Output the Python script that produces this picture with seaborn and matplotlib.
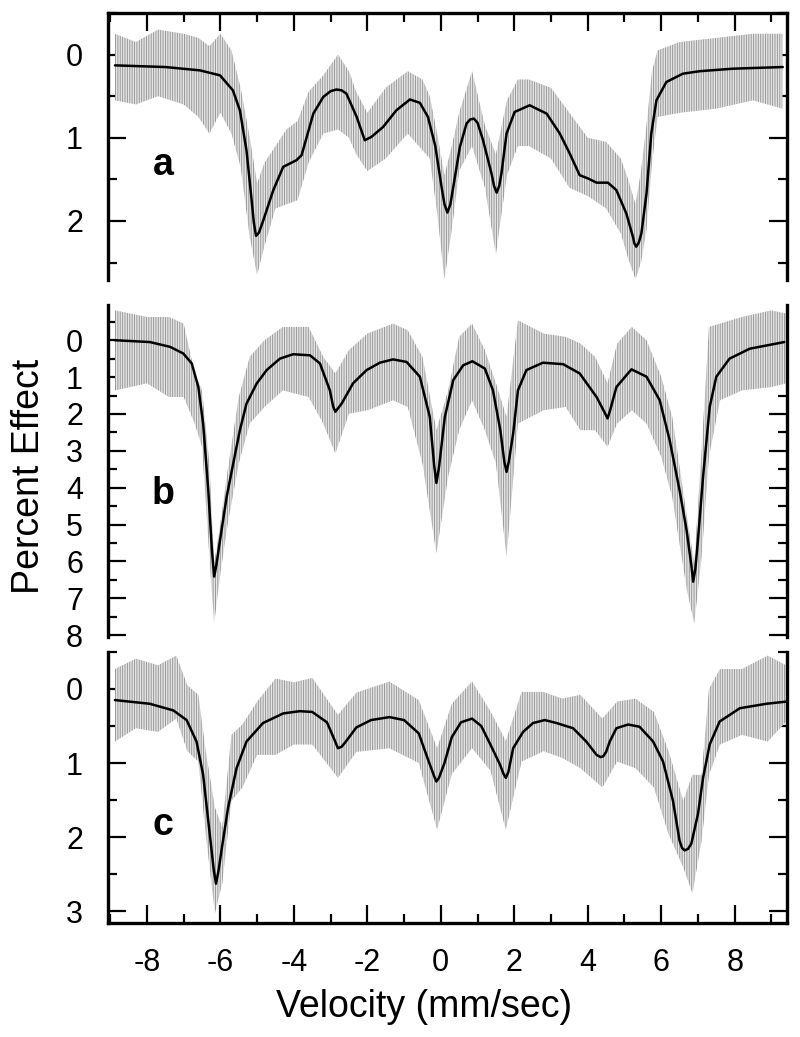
import matplotlib
matplotlib.use("Agg")
import matplotlib.pyplot as plt
import seaborn as sns

# --- fitted curves (velocity in mm/sec, percent effect) ---
vel_a = [-8.87, -7.5, -6.56, -6.01, -5.66, -5.47, -5.29, -5.15, -5.09, -5.03,
         -4.95, -4.83, -4.56, -4.29, -3.93, -3.79, -3.47, -3.20, -3.00, -2.84,
         -2.70, -2.57, -2.29, -2.07, -1.89, -1.57, -1.21, -0.84, -0.57, -0.35,
         -0.15, 0.02, 0.10, 0.18, 0.26, 0.34, 0.52, 0.70, 0.80, 0.90,
         1.00, 1.15, 1.38, 1.45, 1.52, 1.59, 1.65, 1.79, 2.01, 2.42,
         2.88, 3.24, 3.51, 3.78, 4.01, 4.24, 4.55, 4.78, 5.05, 5.23,
         5.27, 5.32, 5.39, 5.46, 5.60, 5.73, 5.87, 6.14, 6.59, 7.05,
         7.95, 9.31]
fit_a = [0.13, 0.15, 0.19, 0.25, 0.43, 0.67, 1.15, 1.75, 2.02, 2.18,
         2.14, 1.99, 1.63, 1.35, 1.27, 1.21, 0.71, 0.51, 0.44, 0.42,
         0.43, 0.47, 0.75, 1.03, 0.99, 0.87, 0.67, 0.54, 0.58, 0.75,
         1.10, 1.59, 1.80, 1.90, 1.80, 1.59, 1.11, 0.83, 0.78, 0.77,
         0.82, 1.03, 1.43, 1.58, 1.66, 1.58, 1.43, 0.95, 0.69, 0.61,
         0.71, 0.95, 1.19, 1.45, 1.49, 1.54, 1.54, 1.63, 1.91, 2.19,
         2.27, 2.31, 2.26, 2.15, 1.67, 0.95, 0.55, 0.33, 0.23, 0.20,
         0.17, 0.15]

vel_b = [-8.87, -7.92, -7.37, -7.01, -6.78, -6.60, -6.47, -6.33, -6.23, -6.17,
         -6.11, -6.01, -5.83, -5.65, -5.47, -5.29, -5.01, -4.74, -4.38, -4.02,
         -3.56, -3.29, -3.02, -2.93, -2.87, -2.80, -2.70, -2.39, -2.02, -1.66,
         -1.30, -0.93, -0.57, -0.30, -0.18, -0.12, -0.05, 0.11, 0.34, 0.61,
         0.86, 1.20, 1.42, 1.62, 1.73, 1.79, 1.85, 1.97, 2.10, 2.33,
         2.78, 3.33, 3.78, 4.24, 4.48, 4.54, 4.61, 4.78, 5.19, 5.60,
         5.96, 6.23, 6.50, 6.69, 6.82, 6.87, 6.93, 7.00, 7.14, 7.32,
         7.50, 7.86, 8.41, 9.35]
fit_b = [0.00, 0.05, 0.18, 0.36, 0.63, 1.27, 2.26, 4.07, 5.70, 6.41,
         6.10, 5.42, 4.25, 3.34, 2.44, 1.72, 1.17, 0.81, 0.50, 0.38,
         0.41, 0.63, 1.36, 1.80, 1.94, 1.85, 1.72, 1.17, 0.81, 0.61,
         0.52, 0.59, 0.99, 2.08, 3.40, 3.87, 3.45, 2.08, 1.08, 0.68,
         0.57, 0.77, 1.36, 2.44, 3.30, 3.57, 3.30, 2.53, 1.36, 0.81,
         0.61, 0.65, 0.90, 1.54, 2.00, 2.12, 1.90, 1.27, 0.79, 0.99,
         1.63, 2.71, 4.07, 5.15, 6.10, 6.55, 6.20, 5.42, 3.70, 1.81,
         0.99, 0.50, 0.23, 0.05]

vel_c = [-8.87, -7.92, -7.28, -6.92, -6.65, -6.47, -6.29, -6.18, -6.12, -6.05,
         -5.97, -5.79, -5.56, -5.29, -4.84, -4.29, -3.84, -3.5, -3.1, -2.9,
         -2.8, -2.7, -2.6, -2.3, -1.9, -1.4, -1.0, -0.6, -0.35, -0.18,
         -0.12, -0.05, 0.1, 0.3, 0.55, 0.85, 1.1, 1.35, 1.61, 1.71,
         1.77, 1.84, 1.97, 2.24, 2.51, 2.83, 3.15, 3.60, 3.96, 4.24,
         4.35, 4.42, 4.50, 4.60, 4.78, 5.10, 5.41, 5.78, 6.05, 6.32,
         6.50, 6.57, 6.64, 6.73, 6.82, 7.00, 7.14, 7.32, 7.59, 8.14,
         8.86, 9.41]
fit_c = [0.15, 0.20, 0.29, 0.42, 0.71, 1.16, 1.96, 2.45, 2.63, 2.45,
         2.18, 1.60, 1.07, 0.71, 0.46, 0.33, 0.30, 0.31, 0.45, 0.68,
         0.80, 0.78, 0.72, 0.52, 0.42, 0.38, 0.42, 0.60, 0.95, 1.18,
         1.25, 1.20, 1.00, 0.65, 0.45, 0.40, 0.50, 0.75, 1.02, 1.15,
         1.20, 1.12, 0.80, 0.58, 0.46, 0.42, 0.46, 0.53, 0.71, 0.89,
         0.92, 0.91, 0.85, 0.71, 0.53, 0.48, 0.51, 0.71, 0.98, 1.51,
         2.05, 2.15, 2.18, 2.16, 2.09, 1.69, 1.20, 0.75, 0.44, 0.26,
         0.20, 0.17]

# --- spread of the measured points (upper / lower edge of the error bars) ---
band_vel_a = [-8.87, -8.3, -7.7, -7.0, -6.6, -6.3, -6.0, -5.7, -5.45, -5.2,
              -5.0, -4.8, -4.5, -4.2, -3.9, -3.6, -3.2, -2.8, -2.5, -2.3,
              -2.0, -1.5, -0.9, -0.5, -0.3, -0.1, 0.1, 0.3, 0.5, 0.85,
              1.2, 1.5, 1.8, 2.1, 2.4, 3.0, 3.5, 4.0, 4.5, 4.9,
              5.1, 5.3, 5.45, 5.6, 5.75, 5.9, 6.5, 7.5, 8.5, 9.3]
band_top_a = [-0.25, -0.15, -0.30, -0.25, -0.20, -0.10, -0.25, -0.05, 0.40, 1.00,
              1.55, 1.30, 1.10, 0.90, 0.80, 0.45, 0.25, 0.00, 0.20, 0.45,
              0.70, 0.40, 0.20, 0.30, 0.50, 0.95, 1.45, 1.10, 0.70, 0.20,
              0.85, 1.20, 0.55, 0.30, 0.30, 0.40, 0.70, 1.00, 1.05, 1.25,
              1.50, 1.80, 1.40, 0.85, 0.20, -0.05, -0.15, -0.20, -0.25, -0.25]
band_bot_a = [0.55, 0.60, 0.50, 0.60, 0.75, 0.95, 0.70, 0.95, 1.35, 2.20,
              2.65, 2.30, 1.85, 1.80, 1.75, 1.30, 0.95, 0.90, 1.00, 1.20,
              1.40, 1.25, 0.95, 1.15, 1.25, 1.90, 2.70, 2.10, 1.40, 1.10,
              1.60, 2.40, 1.45, 1.10, 1.10, 1.25, 1.60, 1.70, 1.85, 2.15,
              2.45, 2.70, 2.50, 2.10, 1.30, 0.75, 0.70, 0.65, 0.55, 0.65]

band_vel_b = [-8.87, -8.0, -7.4, -7.0, -6.7, -6.5, -6.3, -6.17, -6.0, -5.8,
              -5.5, -5.2, -4.8, -4.3, -3.6, -3.2, -2.87, -2.5, -2.0, -1.3,
              -0.9, -0.5, -0.12, 0.2, 0.5, 0.85, 1.2, 1.5, 1.79, 2.1,
              2.8, 3.4, 3.8, 4.2, 4.54, 4.8, 5.2, 5.6, 6.0, 6.3,
              6.7, 6.9, 7.1, 7.3, 7.6, 8.2, 9.0, 9.4]
band_top_b = [-0.81, -0.63, -0.63, -0.45, 0.90, 1.36, 3.34, 6.05, 4.97, 3.52,
              1.54, 0.45, 0.00, -0.36, -0.36, 0.45, 0.90, 0.27, -0.18, -0.45,
              -0.27, 0.45, 2.44, 1.36, -0.09, -0.45, 0.27, 1.17, 2.08, -0.54,
              -0.18, -0.09, 0.09, 0.45, 1.17, 0.09, -0.36, 0.00, 0.99, 2.08,
              4.79, 6.05, 2.98, -0.36, -0.45, -0.63, -0.81, -0.72]
band_bot_b = [1.36, 1.17, 1.54, 1.54, 2.26, 2.89, 5.87, 7.68, 6.32, 4.97,
              3.34, 2.26, 1.81, 1.36, 1.54, 2.26, 3.07, 1.99, 1.90, 1.63,
              1.81, 3.34, 5.78, 3.70, 2.44, 1.63, 2.44, 3.34, 5.87, 2.26,
              1.90, 1.81, 2.44, 2.44, 2.89, 2.26, 1.90, 2.26, 3.16, 4.25,
              6.78, 7.68, 5.87, 3.16, 1.63, 1.36, 1.27, 1.17]

band_vel_c = [-8.87, -8.3, -7.7, -7.2, -6.9, -6.6, -6.4, -6.15, -5.95, -5.7,
              -5.4, -5.0, -4.5, -4.0, -3.5, -2.8, -2.3, -1.4, -0.6, -0.1,
              0.3, 0.85, 1.35, 1.77, 2.2, 2.8, 3.3, 3.8, 4.4, 4.8,
              5.3, 5.8, 6.2, 6.6, 6.85, 7.1, 7.3, 7.6, 8.2, 8.9,
              9.4]
band_top_c = [-0.27, -0.41, -0.32, -0.45, -0.05, 0.08, 0.84, 1.60, 1.87, 0.62,
              0.48, 0.17, -0.14, -0.09, -0.15, 0.35, 0.05, -0.10, 0.15, 0.80,
              0.20, -0.10, 0.30, 0.70, 0.04, 0.04, 0.13, 0.08, 0.40, 0.17,
              0.13, 0.31, 0.84, 1.51, 1.16, 1.16, 0.00, -0.27, -0.27, -0.45,
              -0.32]
band_bot_c = [0.71, 0.53, 0.58, 0.40, 0.84, 0.98, 1.96, 3.03, 2.63, 1.51,
              1.33, 0.89, 0.89, 0.75, 0.75, 1.20, 0.85, 0.80, 1.00, 1.90,
              1.15, 0.80, 1.10, 1.90, 0.98, 0.84, 0.93, 1.07, 1.33, 0.98,
              1.07, 1.33, 1.96, 2.41, 2.76, 2.05, 1.16, 0.75, 0.62, 0.71,
              0.44]

# tick positions
x_major = [-8, -6, -4, -2, 0, 2, 4, 6, 8]
x_minor = [-9, -7, -5, -3, -1, 1, 3, 5, 7, 9]
y_major_a = [0, 1, 2]
y_minor_a = [-0.5, 0.5, 1.5, 2.5]
y_major_b = [0, 1, 2, 3, 4, 5, 6, 7, 8]
y_minor_b = [-0.5, 0.5, 1.5, 2.5, 3.5, 4.5, 5.5, 6.5, 7.5]
y_major_c = [0, 1, 2, 3]
y_minor_c = [-0.5, 0.5, 1.5, 2.5]

sns.set_theme(style="ticks")
plt.rcParams['font.family'] = ['Liberation Sans', 'DejaVu Sans']
plt.rcParams['axes.unicode_minus'] = False
plt.rcParams['hatch.linewidth'] = 0.7
plt.rcParams['text.color'] = 'black'

fig = plt.figure(figsize=(8, 10.37), dpi=100)


def panel(rect, vel, fit, bvel, btop, bbot, ylim, ymaj, ymin, spines_on, xmode):
    ax = fig.add_axes(rect)
    ax.fill_between(bvel, btop, bbot, facecolor='#e6e6e6', edgecolor='#979797',
                    hatch='|||||||', linewidth=0, zorder=1)
    sns.lineplot(x=vel, y=fit, ax=ax, color='black', linewidth=1.8,
                 sort=False, estimator=None, zorder=3)
    ax.set_xlim(-9.06, 9.43)
    ax.set_ylim(*ylim)
    ax.set_xlabel('')
    ax.set_ylabel('')
    for name, sp in ax.spines.items():
        sp.set_visible(name in spines_on)
        sp.set_linewidth(2.4)
        sp.set_color('black')
    ax.set_yticks(ymaj)
    ax.set_yticks(ymin, minor=True)
    ax.tick_params(axis='y', which='both', direction='in', left=True, right=True,
                   width=1.6, colors='black', labelsize=22, pad=18)
    ax.tick_params(axis='y', which='major', length=13)
    ax.tick_params(axis='y', which='minor', length=6.5)
    ax.set_xticks(x_major)
    ax.set_xticks(x_minor, minor=True)
    if xmode == 'top':
        ax.tick_params(axis='x', which='both', direction='in', top=True, bottom=False,
                       labeltop=False, labelbottom=False, width=1.6, colors='black')
    elif xmode == 'bottom':
        ax.tick_params(axis='x', which='both', direction='in', top=False, bottom=True,
                       labelbottom=True, width=1.6, colors='black', labelsize=22, pad=18)
    else:
        ax.tick_params(axis='x', which='both', top=False, bottom=False,
                       labelbottom=False)
    ax.tick_params(axis='x', which='major', length=13)
    ax.tick_params(axis='x', which='minor', length=6.5)
    return ax


ax_a = panel([0.135, 0.730, 0.849, 0.2575], vel_a, fit_a, band_vel_a, band_top_a, band_bot_a,
             (2.71, -0.49), y_major_a, y_minor_a, ('left', 'right', 'top'), 'top')
ax_b = panel([0.135, 0.3857, 0.849, 0.320], vel_b, fit_b, band_vel_b, band_top_b, band_bot_b,
             (8.05, -0.95), y_major_b, y_minor_b, ('left', 'right'), 'none')
ax_c = panel([0.135, 0.110, 0.849, 0.2613], vel_c, fit_c, band_vel_c, band_top_c, band_bot_c,
             (3.16, -0.47), y_major_c, y_minor_c, ('left', 'right', 'bottom'), 'bottom')

letter_font = ['Liberation Sans Narrow', 'Liberation Sans', 'DejaVu Sans']
fig.text(0.204, 0.8312, 'a', ha='center', va='baseline', fontsize=27,
         fontweight='bold', family=letter_font, color='black')
fig.text(0.204, 0.514, 'b', ha='center', va='baseline', fontsize=27,
         fontweight='bold', family=letter_font, color='black')
fig.text(0.204, 0.1948, 'c', ha='center', va='baseline', fontsize=27,
         fontweight='bold', family=letter_font, color='black')

fig.text(0.036, 0.541, 'Percent Effect', rotation=90, ha='center', va='center',
         fontsize=27, color='black')
fig.text(0.53, 0.0193, 'Velocity (mm/sec)', ha='center', va='baseline',
         fontsize=27, color='black')

fig.savefig('out.png', dpi=100, facecolor='white')
